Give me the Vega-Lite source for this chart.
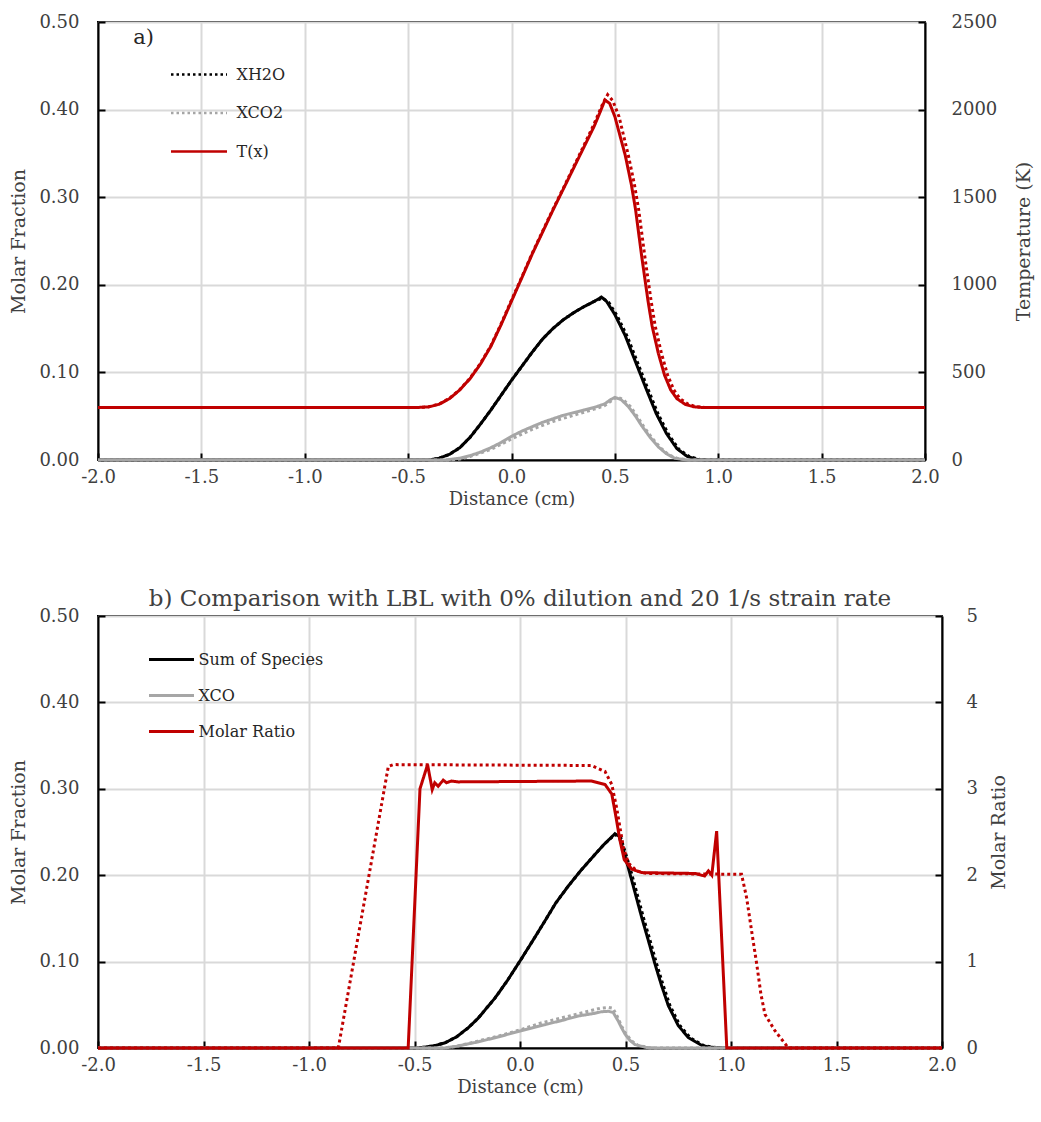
{
  "$schema": "https://vega.github.io/schema/vega-lite/v6.json",
  "background": "white",
  "padding": {"left": 8, "top": 12, "right": 2, "bottom": 2},
  "spacing": 78,
  "datasets": {
    "aLeft": [
      {"x": -2, "value": 0, "series": "XH2O", "source": "model"},
      {"x": -0.4, "value": 0, "series": "XH2O", "source": "model"},
      {"x": -0.35, "value": 0.002, "series": "XH2O", "source": "model"},
      {"x": -0.3, "value": 0.0065, "series": "XH2O", "source": "model"},
      {"x": -0.25, "value": 0.014, "series": "XH2O", "source": "model"},
      {"x": -0.2, "value": 0.026, "series": "XH2O", "source": "model"},
      {"x": -0.15, "value": 0.041, "series": "XH2O", "source": "model"},
      {"x": -0.1, "value": 0.057, "series": "XH2O", "source": "model"},
      {"x": -0.05, "value": 0.074, "series": "XH2O", "source": "model"},
      {"x": 0, "value": 0.091, "series": "XH2O", "source": "model"},
      {"x": 0.05, "value": 0.107, "series": "XH2O", "source": "model"},
      {"x": 0.1, "value": 0.123, "series": "XH2O", "source": "model"},
      {"x": 0.15, "value": 0.138, "series": "XH2O", "source": "model"},
      {"x": 0.2, "value": 0.15, "series": "XH2O", "source": "model"},
      {"x": 0.25, "value": 0.16, "series": "XH2O", "source": "model"},
      {"x": 0.3, "value": 0.168, "series": "XH2O", "source": "model"},
      {"x": 0.35, "value": 0.175, "series": "XH2O", "source": "model"},
      {"x": 0.4, "value": 0.181, "series": "XH2O", "source": "model"},
      {"x": 0.435, "value": 0.186, "series": "XH2O", "source": "model"},
      {"x": 0.46, "value": 0.181, "series": "XH2O", "source": "model"},
      {"x": 0.5, "value": 0.166, "series": "XH2O", "source": "model"},
      {"x": 0.55, "value": 0.142, "series": "XH2O", "source": "model"},
      {"x": 0.6, "value": 0.112, "series": "XH2O", "source": "model"},
      {"x": 0.65, "value": 0.082, "series": "XH2O", "source": "model"},
      {"x": 0.7, "value": 0.053, "series": "XH2O", "source": "model"},
      {"x": 0.75, "value": 0.03, "series": "XH2O", "source": "model"},
      {"x": 0.8, "value": 0.013, "series": "XH2O", "source": "model"},
      {"x": 0.85, "value": 0.004, "series": "XH2O", "source": "model"},
      {"x": 0.9, "value": 0.0005, "series": "XH2O", "source": "model"},
      {"x": 0.95, "value": 0, "series": "XH2O", "source": "model"},
      {"x": 2, "value": 0, "series": "XH2O", "source": "model"},
      {"x": -2, "value": 0, "series": "XH2O", "source": "LBL"},
      {"x": -0.4, "value": 0, "series": "XH2O", "source": "LBL"},
      {"x": -0.35, "value": 0.002, "series": "XH2O", "source": "LBL"},
      {"x": -0.3, "value": 0.0065, "series": "XH2O", "source": "LBL"},
      {"x": -0.25, "value": 0.014, "series": "XH2O", "source": "LBL"},
      {"x": -0.2, "value": 0.026, "series": "XH2O", "source": "LBL"},
      {"x": -0.15, "value": 0.041, "series": "XH2O", "source": "LBL"},
      {"x": -0.1, "value": 0.057, "series": "XH2O", "source": "LBL"},
      {"x": -0.05, "value": 0.074, "series": "XH2O", "source": "LBL"},
      {"x": 0, "value": 0.091, "series": "XH2O", "source": "LBL"},
      {"x": 0.05, "value": 0.107, "series": "XH2O", "source": "LBL"},
      {"x": 0.1, "value": 0.123, "series": "XH2O", "source": "LBL"},
      {"x": 0.15, "value": 0.138, "series": "XH2O", "source": "LBL"},
      {"x": 0.2, "value": 0.15, "series": "XH2O", "source": "LBL"},
      {"x": 0.25, "value": 0.16, "series": "XH2O", "source": "LBL"},
      {"x": 0.3, "value": 0.168, "series": "XH2O", "source": "LBL"},
      {"x": 0.35, "value": 0.175, "series": "XH2O", "source": "LBL"},
      {"x": 0.4, "value": 0.181, "series": "XH2O", "source": "LBL"},
      {"x": 0.44, "value": 0.185, "series": "XH2O", "source": "LBL"},
      {"x": 0.47, "value": 0.18, "series": "XH2O", "source": "LBL"},
      {"x": 0.51, "value": 0.165, "series": "XH2O", "source": "LBL"},
      {"x": 0.56, "value": 0.141, "series": "XH2O", "source": "LBL"},
      {"x": 0.61, "value": 0.111, "series": "XH2O", "source": "LBL"},
      {"x": 0.66, "value": 0.081, "series": "XH2O", "source": "LBL"},
      {"x": 0.71, "value": 0.052, "series": "XH2O", "source": "LBL"},
      {"x": 0.76, "value": 0.029, "series": "XH2O", "source": "LBL"},
      {"x": 0.81, "value": 0.012, "series": "XH2O", "source": "LBL"},
      {"x": 0.86, "value": 0.004, "series": "XH2O", "source": "LBL"},
      {"x": 0.91, "value": 0.0005, "series": "XH2O", "source": "LBL"},
      {"x": 0.96, "value": 0, "series": "XH2O", "source": "LBL"},
      {"x": 2, "value": 0, "series": "XH2O", "source": "LBL"},
      {"x": -2, "value": 0, "series": "XCO2", "source": "model"},
      {"x": -0.32, "value": 0, "series": "XCO2", "source": "model"},
      {"x": -0.25, "value": 0.002, "series": "XCO2", "source": "model"},
      {"x": -0.2, "value": 0.005, "series": "XCO2", "source": "model"},
      {"x": -0.15, "value": 0.009, "series": "XCO2", "source": "model"},
      {"x": -0.1, "value": 0.014, "series": "XCO2", "source": "model"},
      {"x": -0.05, "value": 0.02, "series": "XCO2", "source": "model"},
      {"x": 0, "value": 0.027, "series": "XCO2", "source": "model"},
      {"x": 0.05, "value": 0.033, "series": "XCO2", "source": "model"},
      {"x": 0.1, "value": 0.038, "series": "XCO2", "source": "model"},
      {"x": 0.15, "value": 0.043, "series": "XCO2", "source": "model"},
      {"x": 0.2, "value": 0.047, "series": "XCO2", "source": "model"},
      {"x": 0.25, "value": 0.051, "series": "XCO2", "source": "model"},
      {"x": 0.3, "value": 0.054, "series": "XCO2", "source": "model"},
      {"x": 0.35, "value": 0.057, "series": "XCO2", "source": "model"},
      {"x": 0.4, "value": 0.06, "series": "XCO2", "source": "model"},
      {"x": 0.45, "value": 0.064, "series": "XCO2", "source": "model"},
      {"x": 0.48, "value": 0.069, "series": "XCO2", "source": "model"},
      {"x": 0.5, "value": 0.0715, "series": "XCO2", "source": "model"},
      {"x": 0.53, "value": 0.069, "series": "XCO2", "source": "model"},
      {"x": 0.565, "value": 0.061, "series": "XCO2", "source": "model"},
      {"x": 0.6, "value": 0.05, "series": "XCO2", "source": "model"},
      {"x": 0.63, "value": 0.039, "series": "XCO2", "source": "model"},
      {"x": 0.67, "value": 0.026, "series": "XCO2", "source": "model"},
      {"x": 0.71, "value": 0.015, "series": "XCO2", "source": "model"},
      {"x": 0.75, "value": 0.007, "series": "XCO2", "source": "model"},
      {"x": 0.79, "value": 0.002, "series": "XCO2", "source": "model"},
      {"x": 0.85, "value": 0, "series": "XCO2", "source": "model"},
      {"x": 2, "value": 0, "series": "XCO2", "source": "model"},
      {"x": -2, "value": 0, "series": "XCO2", "source": "LBL"},
      {"x": -0.3, "value": 0, "series": "XCO2", "source": "LBL"},
      {"x": -0.25, "value": 0.001, "series": "XCO2", "source": "LBL"},
      {"x": -0.2, "value": 0.004, "series": "XCO2", "source": "LBL"},
      {"x": -0.1, "value": 0.012, "series": "XCO2", "source": "LBL"},
      {"x": 0, "value": 0.024, "series": "XCO2", "source": "LBL"},
      {"x": 0.1, "value": 0.035, "series": "XCO2", "source": "LBL"},
      {"x": 0.2, "value": 0.044, "series": "XCO2", "source": "LBL"},
      {"x": 0.3, "value": 0.051, "series": "XCO2", "source": "LBL"},
      {"x": 0.4, "value": 0.058, "series": "XCO2", "source": "LBL"},
      {"x": 0.45, "value": 0.062, "series": "XCO2", "source": "LBL"},
      {"x": 0.48, "value": 0.067, "series": "XCO2", "source": "LBL"},
      {"x": 0.51, "value": 0.072, "series": "XCO2", "source": "LBL"},
      {"x": 0.54, "value": 0.069, "series": "XCO2", "source": "LBL"},
      {"x": 0.575, "value": 0.061, "series": "XCO2", "source": "LBL"},
      {"x": 0.61, "value": 0.049, "series": "XCO2", "source": "LBL"},
      {"x": 0.64, "value": 0.038, "series": "XCO2", "source": "LBL"},
      {"x": 0.68, "value": 0.025, "series": "XCO2", "source": "LBL"},
      {"x": 0.72, "value": 0.014, "series": "XCO2", "source": "LBL"},
      {"x": 0.76, "value": 0.006, "series": "XCO2", "source": "LBL"},
      {"x": 0.8, "value": 0.002, "series": "XCO2", "source": "LBL"},
      {"x": 0.86, "value": 0, "series": "XCO2", "source": "LBL"},
      {"x": 2, "value": 0, "series": "XCO2", "source": "LBL"}
    ],
    "aRight": [
      {"x": -2, "value": 300, "series": "T(x)", "source": "LBL"},
      {"x": -0.45, "value": 300, "series": "T(x)", "source": "LBL"},
      {"x": -0.4, "value": 304, "series": "T(x)", "source": "LBL"},
      {"x": -0.35, "value": 320, "series": "T(x)", "source": "LBL"},
      {"x": -0.3, "value": 352, "series": "T(x)", "source": "LBL"},
      {"x": -0.25, "value": 402, "series": "T(x)", "source": "LBL"},
      {"x": -0.2, "value": 468, "series": "T(x)", "source": "LBL"},
      {"x": -0.15, "value": 552, "series": "T(x)", "source": "LBL"},
      {"x": -0.1, "value": 652, "series": "T(x)", "source": "LBL"},
      {"x": -0.05, "value": 778, "series": "T(x)", "source": "LBL"},
      {"x": 0, "value": 912, "series": "T(x)", "source": "LBL"},
      {"x": 0.05, "value": 1045, "series": "T(x)", "source": "LBL"},
      {"x": 0.1, "value": 1180, "series": "T(x)", "source": "LBL"},
      {"x": 0.15, "value": 1305, "series": "T(x)", "source": "LBL"},
      {"x": 0.2, "value": 1430, "series": "T(x)", "source": "LBL"},
      {"x": 0.25, "value": 1550, "series": "T(x)", "source": "LBL"},
      {"x": 0.3, "value": 1672, "series": "T(x)", "source": "LBL"},
      {"x": 0.35, "value": 1795, "series": "T(x)", "source": "LBL"},
      {"x": 0.4, "value": 1920, "series": "T(x)", "source": "LBL"},
      {"x": 0.44, "value": 2030, "series": "T(x)", "source": "LBL"},
      {"x": 0.465, "value": 2085, "series": "T(x)", "source": "LBL"},
      {"x": 0.49, "value": 2050, "series": "T(x)", "source": "LBL"},
      {"x": 0.52, "value": 1960, "series": "T(x)", "source": "LBL"},
      {"x": 0.565, "value": 1740, "series": "T(x)", "source": "LBL"},
      {"x": 0.595, "value": 1570, "series": "T(x)", "source": "LBL"},
      {"x": 0.615, "value": 1430, "series": "T(x)", "source": "LBL"},
      {"x": 0.645, "value": 1160, "series": "T(x)", "source": "LBL"},
      {"x": 0.675, "value": 910, "series": "T(x)", "source": "LBL"},
      {"x": 0.695, "value": 765, "series": "T(x)", "source": "LBL"},
      {"x": 0.725, "value": 610, "series": "T(x)", "source": "LBL"},
      {"x": 0.755, "value": 485, "series": "T(x)", "source": "LBL"},
      {"x": 0.785, "value": 400, "series": "T(x)", "source": "LBL"},
      {"x": 0.815, "value": 350, "series": "T(x)", "source": "LBL"},
      {"x": 0.855, "value": 318, "series": "T(x)", "source": "LBL"},
      {"x": 0.895, "value": 304, "series": "T(x)", "source": "LBL"},
      {"x": 0.935, "value": 300, "series": "T(x)", "source": "LBL"},
      {"x": 2, "value": 300, "series": "T(x)", "source": "LBL"},
      {"x": -2, "value": 300, "series": "T(x)", "source": "model"},
      {"x": -0.45, "value": 300, "series": "T(x)", "source": "model"},
      {"x": -0.4, "value": 303, "series": "T(x)", "source": "model"},
      {"x": -0.35, "value": 318, "series": "T(x)", "source": "model"},
      {"x": -0.3, "value": 350, "series": "T(x)", "source": "model"},
      {"x": -0.25, "value": 400, "series": "T(x)", "source": "model"},
      {"x": -0.2, "value": 465, "series": "T(x)", "source": "model"},
      {"x": -0.15, "value": 548, "series": "T(x)", "source": "model"},
      {"x": -0.1, "value": 648, "series": "T(x)", "source": "model"},
      {"x": -0.05, "value": 773, "series": "T(x)", "source": "model"},
      {"x": 0, "value": 907, "series": "T(x)", "source": "model"},
      {"x": 0.05, "value": 1040, "series": "T(x)", "source": "model"},
      {"x": 0.1, "value": 1175, "series": "T(x)", "source": "model"},
      {"x": 0.15, "value": 1300, "series": "T(x)", "source": "model"},
      {"x": 0.2, "value": 1425, "series": "T(x)", "source": "model"},
      {"x": 0.25, "value": 1545, "series": "T(x)", "source": "model"},
      {"x": 0.3, "value": 1665, "series": "T(x)", "source": "model"},
      {"x": 0.35, "value": 1785, "series": "T(x)", "source": "model"},
      {"x": 0.4, "value": 1905, "series": "T(x)", "source": "model"},
      {"x": 0.43, "value": 1990, "series": "T(x)", "source": "model"},
      {"x": 0.452, "value": 2055, "series": "T(x)", "source": "model"},
      {"x": 0.475, "value": 2035, "series": "T(x)", "source": "model"},
      {"x": 0.5, "value": 1960, "series": "T(x)", "source": "model"},
      {"x": 0.55, "value": 1740, "series": "T(x)", "source": "model"},
      {"x": 0.58, "value": 1570, "series": "T(x)", "source": "model"},
      {"x": 0.6, "value": 1430, "series": "T(x)", "source": "model"},
      {"x": 0.63, "value": 1160, "series": "T(x)", "source": "model"},
      {"x": 0.66, "value": 910, "series": "T(x)", "source": "model"},
      {"x": 0.68, "value": 765, "series": "T(x)", "source": "model"},
      {"x": 0.71, "value": 610, "series": "T(x)", "source": "model"},
      {"x": 0.74, "value": 485, "series": "T(x)", "source": "model"},
      {"x": 0.77, "value": 400, "series": "T(x)", "source": "model"},
      {"x": 0.8, "value": 350, "series": "T(x)", "source": "model"},
      {"x": 0.84, "value": 318, "series": "T(x)", "source": "model"},
      {"x": 0.88, "value": 304, "series": "T(x)", "source": "model"},
      {"x": 0.92, "value": 300, "series": "T(x)", "source": "model"},
      {"x": 2, "value": 300, "series": "T(x)", "source": "model"}
    ],
    "bLeft": [
      {"x": -2, "value": 0, "series": "Sum of Species", "source": "LBL"},
      {"x": -0.5, "value": 0, "series": "Sum of Species", "source": "LBL"},
      {"x": -0.45, "value": 0.001, "series": "Sum of Species", "source": "LBL"},
      {"x": -0.4, "value": 0.003, "series": "Sum of Species", "source": "LBL"},
      {"x": -0.355, "value": 0.006, "series": "Sum of Species", "source": "LBL"},
      {"x": -0.3, "value": 0.013, "series": "Sum of Species", "source": "LBL"},
      {"x": -0.245, "value": 0.0235, "series": "Sum of Species", "source": "LBL"},
      {"x": -0.2, "value": 0.034, "series": "Sum of Species", "source": "LBL"},
      {"x": -0.118, "value": 0.058, "series": "Sum of Species", "source": "LBL"},
      {"x": -0.06, "value": 0.078, "series": "Sum of Species", "source": "LBL"},
      {"x": 0, "value": 0.1007, "series": "Sum of Species", "source": "LBL"},
      {"x": 0.06, "value": 0.124, "series": "Sum of Species", "source": "LBL"},
      {"x": 0.118, "value": 0.147, "series": "Sum of Species", "source": "LBL"},
      {"x": 0.17, "value": 0.168, "series": "Sum of Species", "source": "LBL"},
      {"x": 0.229, "value": 0.1875, "series": "Sum of Species", "source": "LBL"},
      {"x": 0.29, "value": 0.206, "series": "Sum of Species", "source": "LBL"},
      {"x": 0.355, "value": 0.224, "series": "Sum of Species", "source": "LBL"},
      {"x": 0.4, "value": 0.236, "series": "Sum of Species", "source": "LBL"},
      {"x": 0.45, "value": 0.247, "series": "Sum of Species", "source": "LBL"},
      {"x": 0.478, "value": 0.243, "series": "Sum of Species", "source": "LBL"},
      {"x": 0.521, "value": 0.209, "series": "Sum of Species", "source": "LBL"},
      {"x": 0.553, "value": 0.18, "series": "Sum of Species", "source": "LBL"},
      {"x": 0.585, "value": 0.151, "series": "Sum of Species", "source": "LBL"},
      {"x": 0.618, "value": 0.123, "series": "Sum of Species", "source": "LBL"},
      {"x": 0.648, "value": 0.097, "series": "Sum of Species", "source": "LBL"},
      {"x": 0.678, "value": 0.073, "series": "Sum of Species", "source": "LBL"},
      {"x": 0.711, "value": 0.049, "series": "Sum of Species", "source": "LBL"},
      {"x": 0.758, "value": 0.026, "series": "Sum of Species", "source": "LBL"},
      {"x": 0.806, "value": 0.012, "series": "Sum of Species", "source": "LBL"},
      {"x": 0.869, "value": 0.003, "series": "Sum of Species", "source": "LBL"},
      {"x": 0.91, "value": 0.001, "series": "Sum of Species", "source": "LBL"},
      {"x": 0.96, "value": 0, "series": "Sum of Species", "source": "LBL"},
      {"x": 2, "value": 0, "series": "Sum of Species", "source": "LBL"},
      {"x": -2, "value": 0, "series": "Sum of Species", "source": "model"},
      {"x": -0.5, "value": 0, "series": "Sum of Species", "source": "model"},
      {"x": -0.45, "value": 0.001, "series": "Sum of Species", "source": "model"},
      {"x": -0.4, "value": 0.003, "series": "Sum of Species", "source": "model"},
      {"x": -0.355, "value": 0.006, "series": "Sum of Species", "source": "model"},
      {"x": -0.3, "value": 0.013, "series": "Sum of Species", "source": "model"},
      {"x": -0.245, "value": 0.0235, "series": "Sum of Species", "source": "model"},
      {"x": -0.2, "value": 0.034, "series": "Sum of Species", "source": "model"},
      {"x": -0.118, "value": 0.058, "series": "Sum of Species", "source": "model"},
      {"x": -0.06, "value": 0.078, "series": "Sum of Species", "source": "model"},
      {"x": 0, "value": 0.1007, "series": "Sum of Species", "source": "model"},
      {"x": 0.06, "value": 0.124, "series": "Sum of Species", "source": "model"},
      {"x": 0.118, "value": 0.147, "series": "Sum of Species", "source": "model"},
      {"x": 0.17, "value": 0.168, "series": "Sum of Species", "source": "model"},
      {"x": 0.229, "value": 0.1875, "series": "Sum of Species", "source": "model"},
      {"x": 0.29, "value": 0.206, "series": "Sum of Species", "source": "model"},
      {"x": 0.355, "value": 0.224, "series": "Sum of Species", "source": "model"},
      {"x": 0.4, "value": 0.236, "series": "Sum of Species", "source": "model"},
      {"x": 0.45, "value": 0.248, "series": "Sum of Species", "source": "model"},
      {"x": 0.47, "value": 0.245, "series": "Sum of Species", "source": "model"},
      {"x": 0.513, "value": 0.209, "series": "Sum of Species", "source": "model"},
      {"x": 0.545, "value": 0.18, "series": "Sum of Species", "source": "model"},
      {"x": 0.577, "value": 0.151, "series": "Sum of Species", "source": "model"},
      {"x": 0.61, "value": 0.123, "series": "Sum of Species", "source": "model"},
      {"x": 0.64, "value": 0.097, "series": "Sum of Species", "source": "model"},
      {"x": 0.67, "value": 0.073, "series": "Sum of Species", "source": "model"},
      {"x": 0.703, "value": 0.049, "series": "Sum of Species", "source": "model"},
      {"x": 0.75, "value": 0.026, "series": "Sum of Species", "source": "model"},
      {"x": 0.798, "value": 0.012, "series": "Sum of Species", "source": "model"},
      {"x": 0.861, "value": 0.003, "series": "Sum of Species", "source": "model"},
      {"x": 0.9, "value": 0.001, "series": "Sum of Species", "source": "model"},
      {"x": 0.95, "value": 0, "series": "Sum of Species", "source": "model"},
      {"x": 2, "value": 0, "series": "Sum of Species", "source": "model"},
      {"x": -2, "value": 0, "series": "XCO", "source": "LBL"},
      {"x": -0.36, "value": 0, "series": "XCO", "source": "LBL"},
      {"x": -0.3, "value": 0.002, "series": "XCO", "source": "LBL"},
      {"x": -0.2, "value": 0.008, "series": "XCO", "source": "LBL"},
      {"x": -0.1, "value": 0.014, "series": "XCO", "source": "LBL"},
      {"x": 0, "value": 0.021, "series": "XCO", "source": "LBL"},
      {"x": 0.1, "value": 0.029, "series": "XCO", "source": "LBL"},
      {"x": 0.2, "value": 0.035, "series": "XCO", "source": "LBL"},
      {"x": 0.3, "value": 0.041, "series": "XCO", "source": "LBL"},
      {"x": 0.38, "value": 0.046, "series": "XCO", "source": "LBL"},
      {"x": 0.42, "value": 0.047, "series": "XCO", "source": "LBL"},
      {"x": 0.44, "value": 0.046, "series": "XCO", "source": "LBL"},
      {"x": 0.46, "value": 0.037, "series": "XCO", "source": "LBL"},
      {"x": 0.48, "value": 0.026, "series": "XCO", "source": "LBL"},
      {"x": 0.5, "value": 0.017, "series": "XCO", "source": "LBL"},
      {"x": 0.53, "value": 0.008, "series": "XCO", "source": "LBL"},
      {"x": 0.56, "value": 0.003, "series": "XCO", "source": "LBL"},
      {"x": 0.62, "value": 0, "series": "XCO", "source": "LBL"},
      {"x": 2, "value": 0, "series": "XCO", "source": "LBL"},
      {"x": -2, "value": 0, "series": "XCO", "source": "model"},
      {"x": -0.36, "value": 0, "series": "XCO", "source": "model"},
      {"x": -0.3, "value": 0.002, "series": "XCO", "source": "model"},
      {"x": -0.2, "value": 0.007, "series": "XCO", "source": "model"},
      {"x": -0.1, "value": 0.013, "series": "XCO", "source": "model"},
      {"x": 0, "value": 0.0197, "series": "XCO", "source": "model"},
      {"x": 0.118, "value": 0.027, "series": "XCO", "source": "model"},
      {"x": 0.2, "value": 0.032, "series": "XCO", "source": "model"},
      {"x": 0.276, "value": 0.037, "series": "XCO", "source": "model"},
      {"x": 0.35, "value": 0.04, "series": "XCO", "source": "model"},
      {"x": 0.387, "value": 0.042, "series": "XCO", "source": "model"},
      {"x": 0.42, "value": 0.0425, "series": "XCO", "source": "model"},
      {"x": 0.442, "value": 0.041, "series": "XCO", "source": "model"},
      {"x": 0.466, "value": 0.031, "series": "XCO", "source": "model"},
      {"x": 0.48, "value": 0.024, "series": "XCO", "source": "model"},
      {"x": 0.498, "value": 0.016, "series": "XCO", "source": "model"},
      {"x": 0.52, "value": 0.009, "series": "XCO", "source": "model"},
      {"x": 0.545, "value": 0.004, "series": "XCO", "source": "model"},
      {"x": 0.6, "value": 0.0005, "series": "XCO", "source": "model"},
      {"x": 0.65, "value": 0, "series": "XCO", "source": "model"},
      {"x": 2, "value": 0, "series": "XCO", "source": "model"}
    ],
    "bRight": [
      {"x": -2, "value": 0, "series": "Molar Ratio", "source": "LBL"},
      {"x": -0.861, "value": 0, "series": "Molar Ratio", "source": "LBL"},
      {"x": -0.624, "value": 3.26, "series": "Molar Ratio", "source": "LBL"},
      {"x": -0.6, "value": 3.28, "series": "Molar Ratio", "source": "LBL"},
      {"x": 0.339, "value": 3.27, "series": "Molar Ratio", "source": "LBL"},
      {"x": 0.403, "value": 3.2, "series": "Molar Ratio", "source": "LBL"},
      {"x": 0.435, "value": 3.05, "series": "Molar Ratio", "source": "LBL"},
      {"x": 0.458, "value": 2.78, "series": "Molar Ratio", "source": "LBL"},
      {"x": 0.474, "value": 2.55, "series": "Molar Ratio", "source": "LBL"},
      {"x": 0.49, "value": 2.32, "series": "Molar Ratio", "source": "LBL"},
      {"x": 0.514, "value": 2.14, "series": "Molar Ratio", "source": "LBL"},
      {"x": 0.553, "value": 2.05, "series": "Molar Ratio", "source": "LBL"},
      {"x": 0.6, "value": 2.02, "series": "Molar Ratio", "source": "LBL"},
      {"x": 1.05, "value": 2.01, "series": "Molar Ratio", "source": "LBL"},
      {"x": 1.074, "value": 1.74, "series": "Molar Ratio", "source": "LBL"},
      {"x": 1.098, "value": 1.35, "series": "Molar Ratio", "source": "LBL"},
      {"x": 1.122, "value": 0.97, "series": "Molar Ratio", "source": "LBL"},
      {"x": 1.142, "value": 0.62, "series": "Molar Ratio", "source": "LBL"},
      {"x": 1.161, "value": 0.39, "series": "Molar Ratio", "source": "LBL"},
      {"x": 1.209, "value": 0.197, "series": "Molar Ratio", "source": "LBL"},
      {"x": 1.272, "value": 0, "series": "Molar Ratio", "source": "LBL"},
      {"x": 2, "value": 0, "series": "Molar Ratio", "source": "LBL"},
      {"x": -2, "value": 0, "series": "Molar Ratio", "source": "model"},
      {"x": -0.53, "value": 0, "series": "Molar Ratio", "source": "model"},
      {"x": -0.474, "value": 3.0, "series": "Molar Ratio", "source": "model"},
      {"x": -0.438, "value": 3.28, "series": "Molar Ratio", "source": "model"},
      {"x": -0.416, "value": 2.99, "series": "Molar Ratio", "source": "model"},
      {"x": -0.404, "value": 3.07, "series": "Molar Ratio", "source": "model"},
      {"x": -0.388, "value": 3.03, "series": "Molar Ratio", "source": "model"},
      {"x": -0.364, "value": 3.1, "series": "Molar Ratio", "source": "model"},
      {"x": -0.348, "value": 3.07, "series": "Molar Ratio", "source": "model"},
      {"x": -0.325, "value": 3.09, "series": "Molar Ratio", "source": "model"},
      {"x": -0.293, "value": 3.08, "series": "Molar Ratio", "source": "model"},
      {"x": 0.339, "value": 3.09, "series": "Molar Ratio", "source": "model"},
      {"x": 0.403, "value": 3.05, "series": "Molar Ratio", "source": "model"},
      {"x": 0.435, "value": 2.94, "series": "Molar Ratio", "source": "model"},
      {"x": 0.453, "value": 2.7, "series": "Molar Ratio", "source": "model"},
      {"x": 0.474, "value": 2.4, "series": "Molar Ratio", "source": "model"},
      {"x": 0.494, "value": 2.18, "series": "Molar Ratio", "source": "model"},
      {"x": 0.529, "value": 2.07, "series": "Molar Ratio", "source": "model"},
      {"x": 0.577, "value": 2.03, "series": "Molar Ratio", "source": "model"},
      {"x": 0.83, "value": 2.02, "series": "Molar Ratio", "source": "model"},
      {"x": 0.86, "value": 2.0, "series": "Molar Ratio", "source": "model"},
      {"x": 0.875, "value": 1.99, "series": "Molar Ratio", "source": "model"},
      {"x": 0.893, "value": 2.05, "series": "Molar Ratio", "source": "model"},
      {"x": 0.909, "value": 2.0, "series": "Molar Ratio", "source": "model"},
      {"x": 0.932, "value": 2.51, "series": "Molar Ratio", "source": "model"},
      {"x": 0.98, "value": 0, "series": "Molar Ratio", "source": "model"},
      {"x": 2, "value": 0, "series": "Molar Ratio", "source": "model"}
    ]
  },
  "vconcat": [
    {
      "width": 827,
      "height": 438,
      "layer": [
        {
          "layer": [
            {
              "data": {"name": "aLeft"},
              "mark": {"type": "line", "strokeWidth": 3},
              "encoding": {
                "x": {"field": "x", "type": "quantitative", "scale": {"domain": [-2, 2], "nice": false},
                  "axis": {"title": "Distance (cm)", "values": [-2, -1.5, -1, -0.5, 0, 0.5, 1, 1.5, 2], "labelExpr": "replace(format(datum.value, '.1f'), '\u2212', '-')", "labelFlush": false, "grid": true, "labelPadding": 15, "titlePadding": 4}},
                "y": {"field": "value", "type": "quantitative", "scale": {"domain": [0, 0.5], "nice": false},
                  "axis": {"title": "Molar Fraction", "titleFontSize": 19, "values": [0, 0.1, 0.2, 0.3, 0.4, 0.5], "format": ".2f", "grid": true, "labelPadding": 26, "titlePadding": 10}},
                "color": {"field": "series", "type": "nominal",
                  "scale": {"domain": ["XH2O", "XCO2", "T(x)"], "range": ["#000000", "#a6a6a6", "#c00000"]},
                  "legend": {"orient": "none", "legendX": 73, "legendY": 37, "title": null,
                    "symbolType": "M-2,0H2", "symbolSize": 784, "symbolStrokeWidth": 2.5, "symbolOffset": 12.5,
                    "labelOffset": 22, "rowPadding": 14.5, "labelFontSize": 16,
                    "encode": {"symbols": {"update": {"strokeDash": {"signal": "datum.value === 'T(x)' ? [1, 0] : [2.5, 3]"}}}}}},
                "strokeDash": {"field": "source", "type": "nominal", "scale": {"domain": ["model", "LBL"], "range": [[1, 0], [3, 3]]}, "legend": null}
              }
            },
            {
              "data": {"values": [{"label": "a)"}]},
              "mark": {"type": "text", "fontSize": 21, "align": "center", "baseline": "middle", "color": "#262626"},
              "encoding": {
                "x": {"datum": -1.78, "type": "quantitative"},
                "y": {"datum": 0.482, "type": "quantitative"},
                "text": {"field": "label", "type": "nominal"}
              }
            }
          ]
        },
        {
          "data": {"name": "aRight"},
          "mark": {"type": "line", "strokeWidth": 3},
          "encoding": {
            "x": {"field": "x", "type": "quantitative", "scale": {"domain": [-2, 2], "nice": false},
              "axis": {"title": "Distance (cm)", "values": [-2, -1.5, -1, -0.5, 0, 0.5, 1, 1.5, 2], "labelExpr": "replace(format(datum.value, '.1f'), '\u2212', '-')", "labelFlush": false, "grid": true, "labelPadding": 15, "titlePadding": 4}},
            "y": {"field": "value", "type": "quantitative", "scale": {"domain": [0, 2500], "nice": false},
              "axis": {"orient": "right", "title": "Temperature (K)", "titleFontSize": 19, "values": [0, 500, 1000, 1500, 2000, 2500], "format": "d", "grid": false, "labelPadding": 33, "titlePadding": 18, "titleAngle": 270, "titleBaseline": "top"}},
            "color": {"field": "series", "type": "nominal",
              "scale": {"domain": ["XH2O", "XCO2", "T(x)"], "range": ["#000000", "#a6a6a6", "#c00000"]}},
            "strokeDash": {"field": "source", "type": "nominal", "scale": {"domain": ["model", "LBL"], "range": [[1, 0], [3, 3]]}, "legend": null}
          }
        }
      ],
      "resolve": {"scale": {"y": "independent"}}
    },
    {
      "width": 844,
      "height": 432,
      "title": {"text": "b) Comparison with LBL with 0% dilution and 20 1/s strain rate", "fontSize": 23, "offset": -4},
      "layer": [
        {
          "data": {"name": "bLeft"},
          "mark": {"type": "line", "strokeWidth": 3},
          "encoding": {
            "x": {"field": "x", "type": "quantitative", "scale": {"domain": [-2, 2], "nice": false},
              "axis": {"title": "Distance (cm)", "values": [-2, -1.5, -1, -0.5, 0, 0.5, 1, 1.5, 2], "labelExpr": "replace(format(datum.value, '.1f'), '\u2212', '-')", "labelFlush": false, "grid": true, "labelPadding": 15, "titlePadding": 4}},
            "y": {"field": "value", "type": "quantitative", "scale": {"domain": [0, 0.5], "nice": false},
              "axis": {"title": "Molar Fraction", "titleFontSize": 19, "values": [0, 0.1, 0.2, 0.3, 0.4, 0.5], "format": ".2f", "grid": true, "labelPadding": 26, "titlePadding": 10}},
            "color": {"field": "series", "type": "nominal",
              "scale": {"domain": ["Sum of Species", "XCO", "Molar Ratio"], "range": ["#000000", "#a6a6a6", "#c00000"]},
              "legend": {"orient": "none", "legendX": 51, "legendY": 30.5, "title": null,
                "symbolType": "M-2,0H2", "symbolSize": 506, "symbolStrokeWidth": 3, "symbolOffset": 9.5,
                "labelOffset": 14, "rowPadding": 15, "labelFontSize": 16}},
            "strokeDash": {"field": "source", "type": "nominal", "scale": {"domain": ["model", "LBL"], "range": [[1, 0], [3, 4]]}, "legend": null}
          }
        },
        {
          "data": {"name": "bRight"},
          "mark": {"type": "line", "strokeWidth": 3},
          "encoding": {
            "x": {"field": "x", "type": "quantitative", "scale": {"domain": [-2, 2], "nice": false},
              "axis": {"title": "Distance (cm)", "values": [-2, -1.5, -1, -0.5, 0, 0.5, 1, 1.5, 2], "labelExpr": "replace(format(datum.value, '.1f'), '\u2212', '-')", "labelFlush": false, "grid": true, "labelPadding": 15, "titlePadding": 4}},
            "y": {"field": "value", "type": "quantitative", "scale": {"domain": [0, 5], "nice": false},
              "axis": {"orient": "right", "title": "Molar Ratio", "titleFontSize": 19, "values": [0, 1, 2, 3, 4, 5], "format": "d", "grid": false, "labelPadding": 31, "titlePadding": 12, "titleAngle": 270, "titleBaseline": "top"}},
            "color": {"field": "series", "type": "nominal",
              "scale": {"domain": ["Sum of Species", "XCO", "Molar Ratio"], "range": ["#000000", "#a6a6a6", "#c00000"]}},
            "strokeDash": {"field": "source", "type": "nominal", "scale": {"domain": ["model", "LBL"], "range": [[1, 0], [3, 4]]}, "legend": null}
          }
        }
      ],
      "resolve": {"scale": {"y": "independent"}}
    }
  ],
  "resolve": {"scale": {"color": "independent"}, "legend": {"color": "independent"}},
  "config": {
    "font": "DejaVu Serif",
    "view": {"stroke": "#000000", "strokeWidth": 2},
    "axis": {
      "labelFont": "DejaVu Serif", "titleFont": "DejaVu Serif",
      "labelFontSize": 18, "titleFontSize": 18, "titleFontWeight": "normal",
      "labelColor": "#404040", "titleColor": "#404040",
      "domainColor": "#000000", "domainWidth": 2,
      "tickColor": "#000000", "tickWidth": 2, "tickSize": -7,
      "gridColor": "#d9d9d9", "gridWidth": 2
    },
    "legend": {"labelFont": "DejaVu Serif", "labelColor": "#262626"},
    "title": {"font": "DejaVu Serif", "fontWeight": "normal", "color": "#404040"}
  }
}
